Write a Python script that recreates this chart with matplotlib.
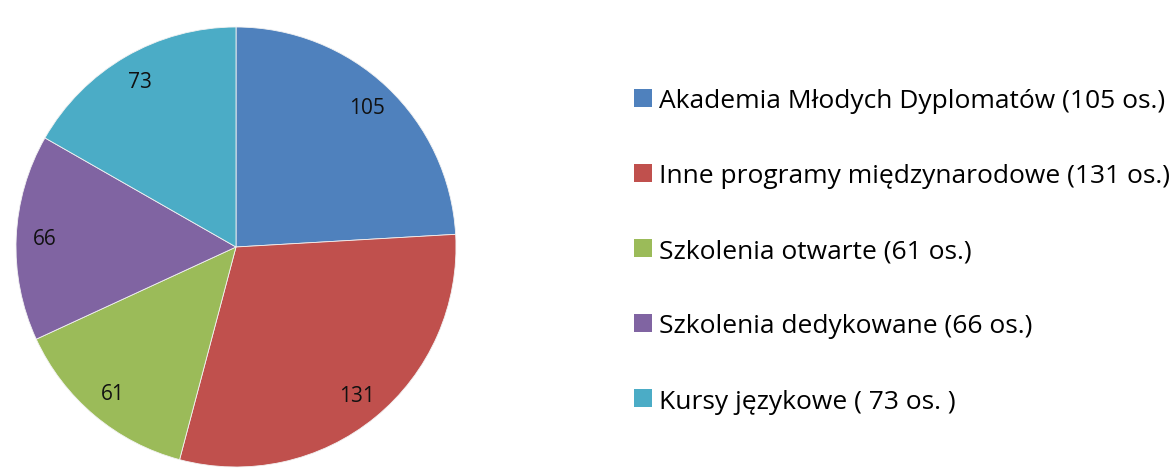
import matplotlib
matplotlib.use('Agg')
import matplotlib.pyplot as plt
from matplotlib.patches import Patch

# dane wykresu
values = [105, 131, 61, 66, 73]
labels = ["Akademia Młodych Dyplomatów (105 os.)",
          "Inne programy międzynarodowe (131 os.)",
          "Szkolenia otwarte (61 os.)",
          "Szkolenia dedykowane (66 os.)",
          "Kursy językowe ( 73 os. )"]
colors = ["#4F81BD", "#C0504D", "#9BBB59", "#8064A2", "#4BACC6"]

plt.rcParams['font.family'] = ['Open Sans', 'DejaVu Sans']

fig = plt.figure(figsize=(11.73, 4.77), dpi=100)
ax = fig.add_axes([16 / 1173, 9 / 477, 440 / 1173, 440 / 477])

wedges, texts = ax.pie(values, colors=colors, startangle=90, counterclock=False,
                       labels=[str(v) for v in values], labeldistance=0.87,
                       wedgeprops=dict(linewidth=0.6, edgecolor="#f2f2f2"),
                       textprops=dict(fontsize=15, color="#111111"))
for t in texts:
    t.set_horizontalalignment('center')
    t.set_verticalalignment('center')
ax.set_xlim(-1.0, 1.0)
ax.set_ylim(-1.0, 1.0)
ax.set_aspect('equal')

handles = [Patch(facecolor=c, edgecolor='none') for c in colors]
fig.legend(handles, labels, loc='upper left', bbox_to_anchor=(634 / 1173, 1 - 89 / 477),
           frameon=False, fontsize=19, labelspacing=1.9, handlelength=0.68,
           handleheight=0.68, handletextpad=0.25, borderaxespad=0, borderpad=0)

fig.savefig("out.png", dpi=100)
